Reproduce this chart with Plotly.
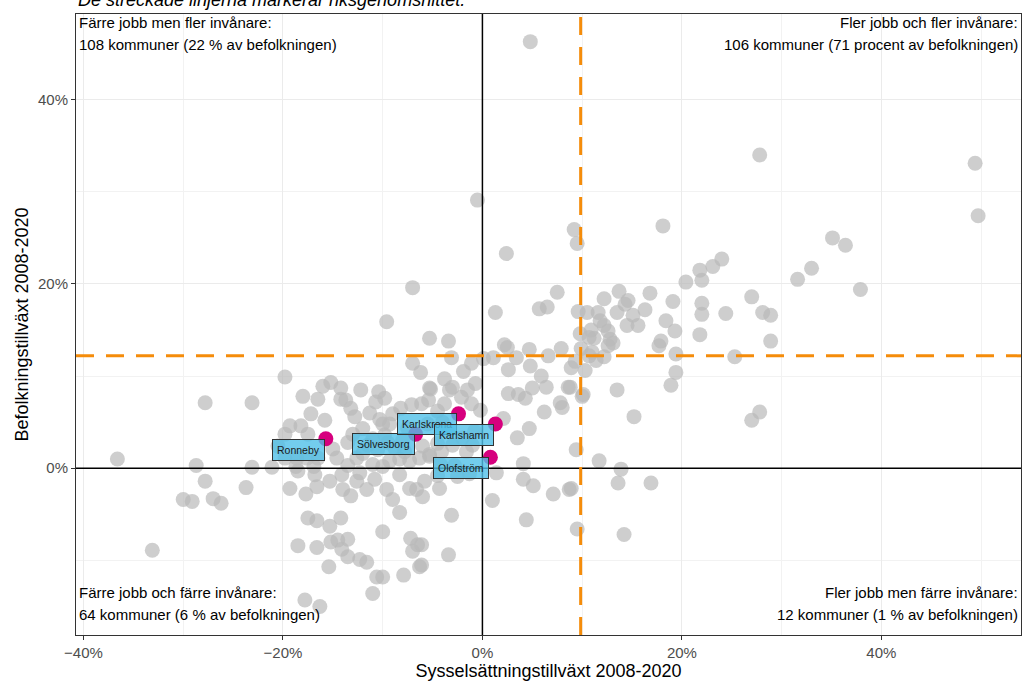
import plotly.graph_objects as go

# ---- data (percent growth 2008-2020) ----
# Upper-right quadrant
ur_x = [4.8, 27.8, 49.4, 49.7, 18.1, 9.2, 9.5, 2.4, 35.1, 36.4, 33.0, 31.6, 37.9, 24.0, 23.1, 21.8, 22.0, 20.4,
        13.7, 16.8, 12.2, 14.6, 14.3, 19.1, 27.0, 22.0, 22.0, 24.4, 28.1, 28.9, 9.6, 10.5, 11.6, 13.5, 15.1, 11.8,
        14.5, 15.6, 18.4, 19.3, 12.2, 12.6, 9.8, 10.7, 11.2, 12.8, 12.6, 21.8, 17.9, 17.7, 28.9, 9.9, 10.7, 11.4,
        12.2, 19.4, 25.3, 8.9, 10.3, 19.4, 18.9, 13.5, 10.1, 8.8, 15.2, 27.8, 27.0, 9.4, 11.7, 7.5, 1.3, 5.7, 6.5,
        2.5, 2.2, 4.7, 1.1, 2.6, 3.4, 4.8, 6.6, 7.9, 5.9, 5.0, 6.4, 8.6, 2.6, 3.6, 4.3, 7.8, 8.0, 6.2, 10.0, 2.1,
        4.7, 3.5, 4.1, 0.1, 11.0, 9.3, 13.1, 10.9, 16.3]
ur_y = [46.3, 34.0, 33.1, 27.4, 26.3, 25.9, 24.4, 23.3, 25.0, 24.2, 21.7, 20.5, 19.4, 22.7, 21.9, 21.5, 20.4, 20.2,
        19.2, 19.0, 18.4, 18.2, 17.8, 18.1, 18.6, 17.9, 16.7, 16.8, 16.9, 16.6, 17.0, 16.9, 16.9, 16.9, 16.6, 16.0,
        15.5, 15.5, 16.0, 14.9, 15.5, 14.9, 14.6, 14.2, 14.1, 14.0, 13.3, 14.5, 13.8, 13.3, 13.8, 13.0, 12.2, 11.7,
        12.1, 12.4, 12.1, 10.9, 10.6, 10.4, 9.0, 8.5, 8.0, 8.8, 5.6, 6.1, 5.2, 2.0, 0.8, 19.1, 16.9, 17.3, 17.5,
        13.1, 13.4, 12.9, 12.0, 10.7, 12.0, 11.1, 12.2, 13.0, 10.0, 8.7, 8.8, 8.8, 8.1, 8.0, 7.6, 7.1, 6.6, 6.1, 7.8, 5.4,
        4.3, 3.3, 0.5, 11.9, 12.6, 11.6, 13.6, 15.0, 17.2]

# Upper-left quadrant
ul_x = [-0.5, -7.0, -9.6, -5.3, -3.4, -3.1, -1.1, -1.9, -3.8, -0.7, -5.3, -3.3, -3.0, -2.1, -1.1, -0.2, -5.4,
        -7.0, -6.2, -5.2, -19.8, -16.0, -15.2, -14.2, -12.2, -10.4, -9.8, -10.7, -14.2, -13.7, -13.2, -17.2, -7.1,
        -6.1, -9.0, -10.3, -10.0, -9.3, -12.0, -13.0, -19.3, -18.2, -17.5, -19.8, -15.0, -14.6, -18.6, -17.6, -16.5,
        -19.8, -12.0, -12.6, -9.3, -8.3, -7.3, -6.3, -5.3, -27.8, -23.1, -36.6, -28.7, -23.1, -21.1, -18.7,
        -4.1, -5.3, -1.6, -4.5, -3.0, -2.0, -8.0, -9.5, -11.5, -7.5, -5.5, -4.0, -3.5, -6.0,
        -11.0, -10.5, -8.8, -7.8, -13.5, -12.8, -11.3, -8.2, -4.5, -3.8, -1.5, -0.8, -1.0, -9.8, -15.8, -16.5,
        -18.0, -20.5, -16.9, -13.5, -11.0, -10.0, -4.2, -2.8]
ul_y = [29.1, 19.6, 15.9, 14.1, 13.8, 12.0, 11.4, 10.5, 9.7, 9.2, 8.7, 8.5, 8.8, 7.7, 7.0, 6.3, 7.4,
        11.4, 10.4, 8.6, 9.9, 8.9, 9.3, 8.7, 8.5, 8.3, 7.6, 7.2, 7.5, 7.4, 6.5, 5.9, 6.9,
        7.0, 5.9, 5.3, 4.8, 4.8, 4.3, 3.7, 4.6, 4.6, 3.7, 3.7, 2.1, 1.1, 1.1, 1.1, 1.1,
        1.1, 1.6, 1.1, 0.8, 1.0, 0.8, 1.1, 1.3, 7.1, 7.1, 1.0, 0.3, 0.1, 0.1, 0.2,
        1.8, 1.5, 1.8, 2.7, 2.5, 3.3, 3.0, 2.8, 2.5, 4.3, 4.8, 5.0, 4.0, 2.4,
        3.2, 2.0, 2.2, 1.8, 2.8, 5.6, 6.0, 6.5, 6.2, 7.0, 8.5, 4.0, 2.5, 3.6, 5.2, 7.5,
        7.8, 2.4, 0.2, 0.3, 0.4, 0.2, 0.4, 0.3]

# Lower-left quadrant
ll_x = [-18.5, -16.8, -14.1, -12.3, -16.6, -19.3, -15.3, -14.0, -12.6, -11.6, -9.6, -8.3, -7.3, -6.6, -6.0,
        -8.3, -17.5, -16.6, -14.2, -15.3, -10.0, -18.5, -16.6, -15.2, -14.5, -13.5, -14.1, -13.5, -7.2, -6.5,
        -7.0, -6.3, -12.3, -11.6, -15.4, -10.6, -10.0, -7.9, -11.0, -17.8, -16.3, -27.8, -23.7, -30.0, -29.1,
        -27.0, -26.2, -33.1, -3.1, -3.4, -6.1, -6.1, -5.8, -4.3, -4.5, -2.5, -1.3, -10.8, -13.2, -9.0, -17.7]
ll_y = [-0.3, -0.7, -0.7, -0.5, -2.0, -2.2, -1.4, -2.3, -1.4, -2.3, -2.3, -0.7, -2.2, -2.3, -3.1,
        -4.8, -5.4, -5.7, -5.4, -6.3, -6.9, -8.4, -8.6, -8.0, -7.8, -7.7, -8.8, -9.6, -7.6, -8.3,
        -9.0, -10.7, -9.9, -10.2, -10.7, -11.8, -11.8, -11.6, -13.6, -14.3, -15.0, -1.4, -2.1, -3.4, -3.6,
        -3.3, -3.8, -8.9, -5.1, -9.4, -10.5, -8.3, -1.4, -2.2, -0.8, -0.9, -0.6, -1.2, -3.0, -3.4, -2.8]

# Lower-right quadrant
lr_x = [1.4, 4.1, 5.1, 7.1, 8.7, 1.0, 4.4, 9.5, 8.9, 13.6, 16.9, 13.9, 14.2]
lr_y = [-0.5, -1.2, -1.9, -2.8, -2.3, -3.5, -5.6, -6.6, -2.2, -1.6, -1.6, -0.1, -7.2]

# Highlighted municipalities
hl_names = ["Ronneby", "Sölvesborg", "Karlskrona", "Karlshamn", "Olofström"]
hl_x = [-15.7, -6.7, -2.4, 1.3, 0.8]
hl_y = [3.2, 3.7, 5.9, 4.8, 1.2]

# National averages (dashed lines)
avg_x = 9.85
avg_y = 12.2

quad_texts = [
    ("Färre jobb men fler invånare:", "108 kommuner (22 % av befolkningen)"),
    ("Fler jobb och fler invånare:", "106 kommuner (71 procent av befolkningen)"),
    ("Färre jobb och färre invånare:", "64 kommuner (6 % av befolkningen)"),
    ("Fler jobb men färre invånare:", "12 kommuner (1 % av befolkningen)"),
]

FONT = "Liberation Sans, Arial, sans-serif"
XR = [-40.75, 54.0]
YR = [-18.1, 49.3]

all_x = ur_x + ul_x + ll_x + lr_x
all_y = ur_y + ul_y + ll_y + lr_y

fig = go.Figure()
fig.add_trace(go.Scatter(x=all_x, y=all_y, mode="markers",
                         marker=dict(size=15, color="rgba(185,185,185,0.7)", line=dict(width=0)),
                         hoverinfo="skip", showlegend=False))
fig.add_trace(go.Scatter(x=hl_x, y=hl_y, mode="markers", text=hl_names,
                         marker=dict(size=15, color="rgb(214,0,126)", line=dict(width=0)),
                         showlegend=False))

shapes = [
    dict(type="line", xref="x", yref="paper", x0=0, x1=0, y0=0, y1=1, line=dict(color="black", width=1.5)),
    dict(type="line", xref="paper", yref="y", x0=0, x1=1, y0=0, y1=0, line=dict(color="black", width=1.5)),
    dict(type="line", xref="x", yref="paper", x0=avg_x, x1=avg_x, y0=0, y1=1,
         line=dict(color="rgb(245,140,10)", width=3, dash="18px,12px")),
    dict(type="line", xref="paper", yref="y", x0=0, x1=1, y0=avg_y, y1=avg_y,
         line=dict(color="rgb(245,140,10)", width=3, dash="18px,12px")),
]

annotations = []
# repel-style labels
offsets = [(-27, 11), (-32, 10), (-31, 10), (-31, 11), (-29, 11)]
for name, x, y, (ax, ay) in zip(hl_names, hl_x, hl_y, offsets):
    annotations.append(dict(x=x, y=y, xref="x", yref="y", text=name, showarrow=True,
                            ax=ax, ay=ay, arrowcolor="rgba(0,0,0,0)", arrowwidth=0.1,
                            font=dict(family=FONT, size=10.5, color="#1a1a1a"),
                            bgcolor="rgba(80,192,232,0.8)", bordercolor="#333333",
                            borderwidth=1, borderpad=4))

# quadrant texts
def qt(line, xpos, xanchor, ypos, yshift):
    annotations.append(dict(x=xpos, y=ypos, xref="paper", yref="paper", text=line, showarrow=False,
                            xanchor=xanchor, yanchor="middle", yshift=yshift,
                            font=dict(family=FONT, size=15, color="black")))

qt(quad_texts[0][0], 0.001, "left", 1, -8)
qt(quad_texts[0][1], 0.001, "left", 1, -30)
qt(quad_texts[1][0], 0.999, "right", 1, -8)
qt(quad_texts[1][1], 0.999, "right", 1, -30)
qt(quad_texts[2][0], 0.001, "left", 0, 43)
qt(quad_texts[2][1], 0.001, "left", 0, 21)
qt(quad_texts[3][0], 0.999, "right", 0, 43)
qt(quad_texts[3][1], 0.999, "right", 0, 21)

# subtitle (cut off at top of the page, as in the original)
annotations.append(dict(x=0, y=1, xref="paper", yref="paper", xanchor="left", yanchor="middle", yshift=14,
                        text="<i>De streckade linjerna markerar riksgenomsnittet.</i>", showarrow=False,
                        font=dict(family=FONT, size=18, color="black")))

axis_common = dict(showline=True, mirror=True, linecolor="#333333", linewidth=1,
                   showgrid=True, gridcolor="#EBEBEB", gridwidth=1, zeroline=False,
                   ticks="outside", ticklen=4, tickcolor="#333333", ticksuffix="%",
                   tickfont=dict(family=FONT, size=15, color="#4D4D4D"),
                   minor=dict(dtick=10, showgrid=True, gridcolor="#F2F2F2", gridwidth=0.8),
                   dtick=20, tick0=0, automargin=False)

fig.update_layout(
    width=1024, height=681,
    margin=dict(l=76, r=3, t=14, b=46),
    paper_bgcolor="white", plot_bgcolor="white",
    xaxis=dict(range=XR, title=dict(text="Sysselsättningstillväxt 2008-2020", standoff=0,
                                    font=dict(family=FONT, size=18, color="black")), **axis_common),
    yaxis=dict(range=YR, title=dict(text="Befolkningstillväxt 2008-2020", standoff=4,
                                    font=dict(family=FONT, size=18, color="black")), **axis_common),
    shapes=shapes, annotations=annotations, showlegend=False,
)

fig.write_html("out.html", config={"displayModeBar": False},
               post_script="document.body.style.margin='0';document.body.style.padding='0';")
